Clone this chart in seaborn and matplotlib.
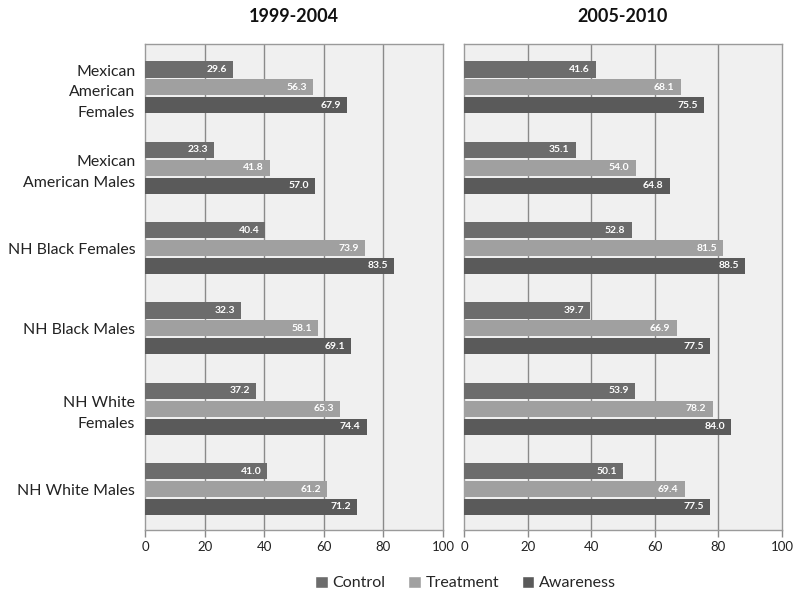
import matplotlib
matplotlib.use("Agg")
import matplotlib.pyplot as plt
import seaborn as sns
import pandas as pd
from matplotlib.patches import Patch

groups = ["Mexican\nAmerican\nFemales", "Mexican\nAmerican Males", "NH Black Females",
          "NH Black Males", "NH White\nFemales", "NH White Males"]
measures = ["Control", "Treatment", "Awareness"]
periods = ["1999-2004", "2005-2010"]

control_1 = [29.6, 23.3, 40.4, 32.3, 37.2, 41.0]
treatment_1 = [56.3, 41.8, 73.9, 58.1, 65.3, 61.2]
awareness_1 = [67.9, 57.0, 83.5, 69.1, 74.4, 71.2]
control_2 = [41.6, 35.1, 52.8, 39.7, 53.9, 50.1]
treatment_2 = [68.1, 54.0, 81.5, 66.9, 78.2, 69.4]
awareness_2 = [75.5, 64.8, 88.5, 77.5, 84.0, 77.5]

data = {
    "1999-2004": [control_1, treatment_1, awareness_1],
    "2005-2010": [control_2, treatment_2, awareness_2],
}
rows = []
for p in periods:
    for m, vals in zip(measures, data[p]):
        for g, v in zip(groups, vals):
            rows.append({"period": p, "measure": m, "group": g, "value": v})
df = pd.DataFrame(rows)

colors = {"Control": "#6c6c6c", "Treatment": "#a0a0a0", "Awareness": "#5a5a5a"}

sns.set_theme(style="white")
plt.rcParams["font.family"] = ["Lato", "DejaVu Sans"]

fig = plt.figure(figsize=(8.0, 5.99), dpi=100)
top = 1 - 44 / 599
bot = 1 - 530 / 599
axes = [fig.add_axes([145 / 800, bot, (443 - 145) / 800, top - bot]),
        fig.add_axes([464 / 800, bot, (782 - 464) / 800, top - bot])]

for ax, p in zip(axes, periods):
    sub = df[df.period == p]
    sns.barplot(data=sub, x="value", y="group", hue="measure", hue_order=measures,
                order=groups, palette=colors, orient="h", width=0.67, gap=0.1,
                ax=ax, legend=False, zorder=3, edgecolor="none")
    ax.set_facecolor("#f0f0f0")
    ax.set_xlim(0, 100)
    ax.set_ylim(5.51, -0.54)
    ax.set_xticks([0, 20, 40, 60, 80, 100])
    for x in [20, 40, 60, 80]:
        ax.axvline(x, color="#8a8a8a", lw=1.0, zorder=1)
    for s in ax.spines.values():
        s.set_color("#9a9a9a")
        s.set_linewidth(1.0)
    ax.tick_params(axis="x", direction="out", length=5, color="#8a8a8a", width=1,
                   labelsize=9.5, labelcolor="#222222", bottom=True, pad=3)
    ax.set_xlabel("")
    ax.set_ylabel("")
    ax.set_title(p, fontsize=13, fontweight="bold", pad=16, color="#111111")
    for cont in ax.containers:
        for bar in cont:
            w = bar.get_width()
            ax.text(w - 2.0, bar.get_y() + bar.get_height() / 2, f"{w:.1f}",
                    ha="right", va="center", color="white", fontsize=7.5,
                    fontweight="bold", zorder=5)

axes[0].tick_params(axis="y", left=False, length=0, labelsize=11.4,
                    labelcolor="#222222", pad=7)
for lbl in axes[0].get_yticklabels():
    lbl.set_multialignment("right")
    lbl.set_linespacing(1.6)
axes[1].set_yticklabels([])
axes[1].tick_params(axis="y", left=False)

handles = [Patch(facecolor=colors[m], label=m) for m in measures]
fig.legend(handles=handles, loc="center", bbox_to_anchor=(0.582, 1 - 583 / 599),
           ncol=3, frameon=False, fontsize=11.5, handlelength=0.8, handleheight=0.8,
           handletextpad=0.3, columnspacing=1.4)

fig.savefig("out.png", dpi=100)
